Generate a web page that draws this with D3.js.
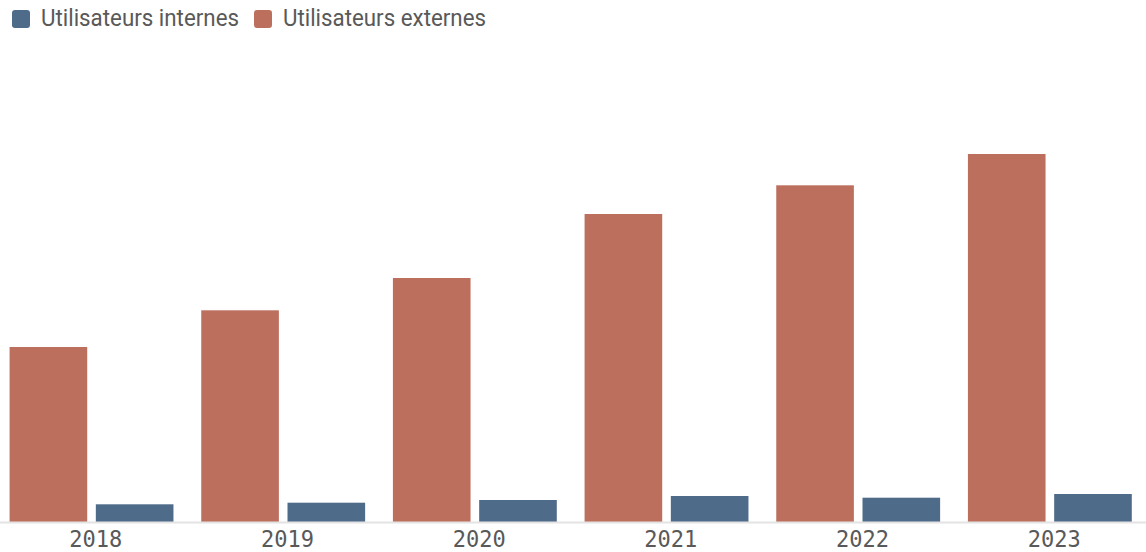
<!DOCTYPE html>
<html><head><meta charset="utf-8">
<script src="https://cdn.jsdelivr.net/npm/d3@7"></script>
<style>html,body{margin:0;padding:0;background:#fff;}svg{display:block;}</style>
</head><body>
<svg id="chart" width="1146" height="552"></svg>
<script>
const years = ["2018","2019","2020","2021","2022","2023"];
const seriesNames = ["Utilisateurs externes","Utilisateurs internes"];
const externes = [17500, 21170, 24400, 30800, 33670, 36800];
const internes = [1770, 1930, 2200, 2600, 2430, 2800];
const legendLabels = ["Utilisateurs internes","Utilisateurs externes"];
const colors = {"Utilisateurs internes":"#4e6b89","Utilisateurs externes":"#bd6f5e"};

const W = 1146, H = 552;
const svg = d3.select("#chart");
const base = 522;
const x0 = d3.scaleBand().domain(years).range([0, 1150]);
const bw = x0.bandwidth();
const x1 = d3.scaleBand().domain(seriesNames).range([bw*0.05, bw*0.905]).paddingInner(0.1);
const y = d3.scaleLinear().domain([0, 40000]).range([base, base-400]);

const rows = years.map((yr,i)=>({year:yr, values:[
  {k:"Utilisateurs externes", v:externes[i]},
  {k:"Utilisateurs internes", v:internes[i]}]}));

const g = svg.append("g");
const grp = g.selectAll("g.grp").data(rows).join("g")
  .attr("transform", d=>`translate(${x0(d.year)},0)`);
grp.selectAll("rect").data(d=>d.values).join("rect")
  .attr("x", d=>x1(d.k)).attr("width", x1.bandwidth())
  .attr("y", d=>y(d.v)).attr("height", d=>y(0)-y(d.v))
  .attr("fill", d=>colors[d.k]);

// axis
const ax = svg.append("g").attr("transform", `translate(0,${base})`)
  .call(d3.axisBottom(x0).tickSize(0).tickPadding(0));
ax.select(".domain").attr("stroke","#e3e3e3").attr("stroke-width",2).attr("d","M0,0.5H1146");
ax.selectAll(".tick text")
  .attr("dy", null).attr("y", 25)
  .attr("font-family","'DejaVu Sans Mono', monospace")
  .attr("font-size", 23).attr("fill","#595959")
  .attr("textLength", 53).attr("lengthAdjust","spacingAndGlyphs");

// legend
const legX = [12, 254];
const legW = [198, 203];
const leg = svg.append("g");
legendLabels.forEach((name,i)=>{
  const lg = leg.append("g").attr("transform",`translate(${legX[i]},0)`);
  lg.append("rect").attr("x",0).attr("y",10).attr("width",18).attr("height",18)
    .attr("rx",3).attr("fill",colors[name]);
  lg.append("text").attr("x",29).attr("y",26)
    .attr("font-family","Roboto, 'Open Sans', sans-serif").attr("font-size",23)
    .attr("fill","#595959")
    .attr("textLength", legW[i]).attr("lengthAdjust","spacingAndGlyphs")
    .text(name);
});
</script>
</body></html>
